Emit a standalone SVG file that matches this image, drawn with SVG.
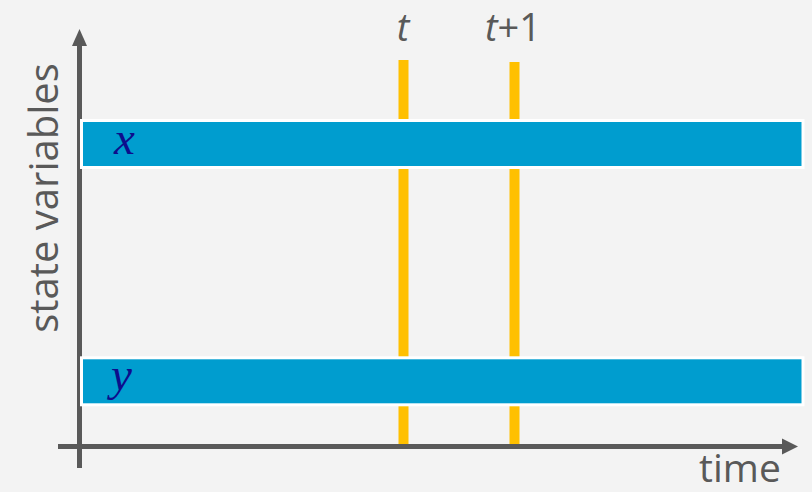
<svg xmlns="http://www.w3.org/2000/svg" width="812" height="492" viewBox="0 0 812 492">
  <defs>
    <style>
      .axis { stroke: #595959; stroke-width: 5; fill: none; }
      .head { fill: #595959; }
      .marker-line { stroke: #FFC000; stroke-width: 10; }
      .band { fill: #009DCF; stroke: #FFFFFF; stroke-width: 3; }
      .lbl { font-family: "Open Sans", "Liberation Sans", sans-serif; fill: #595959; }
      .var { font-family: "Liberation Serif", serif; font-style: italic; fill: #0D0D8C; font-size: 47px; }
    </style>
  </defs>
  <rect x="0" y="0" width="812" height="492" fill="#F3F3F3"/>

  <!-- axes -->
  <g id="axes">
    <line class="axis" x1="79.5" y1="44" x2="79.5" y2="468"/>
    <polygon class="head" points="79.5,29 72,46 87,46"/>
    <line class="axis" x1="58" y1="446.5" x2="784" y2="446.5"/>
    <polygon class="head" points="798,446.5 782,438.5 782,454.5"/>
  </g>

  <!-- time step markers -->
  <g id="step-t">
    <line class="marker-line" x1="403.5" y1="60" x2="403.5" y2="444"/>
    <text class="lbl" x="403" y="41" font-size="38" font-style="italic" text-anchor="middle">t</text>
  </g>
  <g id="step-t1">
    <line class="marker-line" x1="514.5" y1="62" x2="514.5" y2="444"/>
    <text class="lbl" x="513" y="41" font-size="38" text-anchor="middle"><tspan font-style="italic">t</tspan>+1</text>
  </g>

  <!-- state variable bands -->
  <g id="var-x">
    <rect class="band" x="81.5" y="120.5" width="721.5" height="47"/>
    <text class="var" x="114" y="154">x</text>
  </g>
  <g id="var-y">
    <rect class="band" x="81.5" y="357.8" width="721.5" height="47"/>
    <text class="var" x="111" y="390">y</text>
  </g>

  <!-- axis titles -->
  <g id="axis-titles">
    <text class="lbl" font-size="40" text-anchor="middle" transform="translate(58,198) rotate(-90)">state variables</text>
    <text class="lbl" x="740" y="482" font-size="39" text-anchor="middle">time</text>
  </g>
</svg>
